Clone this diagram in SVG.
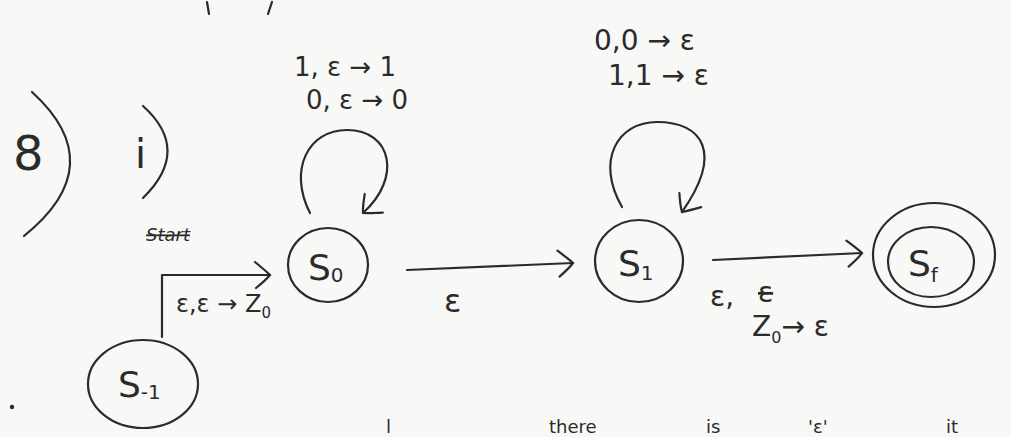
<svg xmlns="http://www.w3.org/2000/svg" width="1011" height="437" viewBox="0 0 1011 437">
<style>
.ink{fill:none;stroke:#2b2b2b;stroke-width:2.2;stroke-linecap:round;stroke-linejoin:round}
.t{font-family:"DejaVu Sans","Liberation Sans",sans-serif;fill:#2b2b2b}
.st{font-size:36px}
.sub{font-size:20px}
.lbl{font-size:28px}
</style>
<defs>
<marker id="arr" markerUnits="userSpaceOnUse" markerWidth="40" markerHeight="40" refX="0" refY="0" viewBox="-20 -20 40 40" orient="auto">
<path d="M -15 -13 Q -4 -4 0 0 Q -4 5 -14 13" fill="none" stroke="#2b2b2b" stroke-width="2.2" stroke-linecap="round"/>
</marker>
</defs>
<rect width="1011" height="437" fill="#f8f8f6"/>

<g id="marks">
<path class="ink" d="M 207 2 L 209 14"/>
<path class="ink" d="M 272 2 L 268 14"/>
<path class="ink" d="M 32 92 Q 112 165 24 236"/>
<path class="ink" d="M 143 106 Q 192 150 143 198"/>
<text class="t" x="13" y="170" font-size="48">8</text>
<text class="t" x="135" y="168" font-size="40">i</text>
<circle cx="12" cy="407" r="2.2" fill="#2b2b2b"/>
<g class="t" font-size="18">
<text x="386" y="433">l</text>
<text x="549" y="433">there</text>
<text x="706" y="433">is</text>
<text x="808" y="433">'ε'</text>
<text x="946" y="433">it</text>
</g>
</g>

<g id="connectors">
<path id="e-start" class="ink" d="M 162 337 L 162 275 L 270 275" marker-end="url(#arr)"/>
<text class="t" x="146" y="241" font-size="18" font-style="italic" text-decoration="line-through">Start</text>
<text class="t" font-size="24" x="176" y="312">ε,ε → Z<tspan font-size="15" dy="6">0</tspan></text>

<path id="e-loop0" class="ink" d="M 310 213 C 288 170, 308 130, 347 130 C 392 130, 402 178, 363 213" marker-end="url(#arr)"/>
<text class="t" font-size="26" x="294" y="76">1, ε → 1</text>
<text class="t" font-size="26" x="306" y="109">0, ε → 0</text>

<path id="e-s0-s1" class="ink" d="M 407 270 L 573 263" marker-end="url(#arr)"/>
<text class="t" x="444" y="312" font-size="32">ε</text>

<path id="e-loop1" class="ink" d="M 622 207 C 595 160, 618 122, 657 122 C 702 122, 724 152, 682 212" marker-end="url(#arr)"/>
<text class="t lbl" x="594" y="50">0,0 → ε</text>
<text class="t lbl" x="608" y="85">1,1 → ε</text>

<path id="e-s1-sf" class="ink" d="M 713 260 L 862 253" marker-end="url(#arr)"/>
<text class="t lbl" x="710" y="306">ε,</text>
<text class="t lbl" x="758" y="302" text-decoration="line-through">ε</text>
<text class="t lbl" x="752" y="336">Z<tspan font-size="16" dy="7">0</tspan><tspan dy="-7">→ ε</tspan></text>
</g>

<g id="s0">
<ellipse class="ink" cx="328" cy="265" rx="40" ry="37"/>
<text class="t st" x="308" y="280">S<tspan class="sub" dy="2">0</tspan></text>
</g>
<g id="s1">
<ellipse class="ink" cx="639" cy="261" rx="44" ry="41"/>
<text class="t st" x="618" y="276">S<tspan class="sub" dy="4">1</tspan></text>
</g>
<g id="sf">
<ellipse class="ink" cx="934" cy="255" rx="61" ry="52"/>
<ellipse class="ink" cx="931" cy="262" rx="43" ry="35"/>
<text class="t st" x="908" y="276">S<tspan class="sub" dy="6">f</tspan></text>
</g>
<g id="s-1">
<ellipse class="ink" cx="143" cy="384" rx="55" ry="44"/>
<text class="t st" x="118" y="397">S<tspan class="sub" dy="2">-1</tspan></text>
</g>
</svg>
